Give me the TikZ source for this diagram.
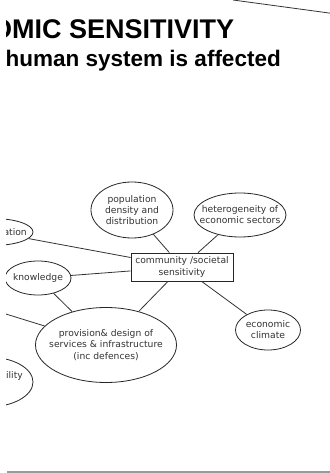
\documentclass[tikz,border=0pt]{standalone}
\usepackage{fontspec}
\setmainfont{DejaVu Sans}
\newfontfamily\titlefont{Liberation Sans}
\usetikzlibrary{shapes.geometric}
\tikzset{
  bub/.style={ellipse, draw=black!85, line width=0.8pt, inner xsep=-20pt, inner ysep=-8pt,
    align=center, text=black!80, font=\fontsize{9.2}{11}\selectfont},
  boxnode/.style={rectangle, draw=black!85, line width=0.8pt, inner sep=0pt,
    minimum width=102pt, minimum height=28pt, align=center, text=black!80,
    font=\fontsize{9.2}{12}\selectfont},
  link/.style={draw=black!80, line width=0.8pt},
  cut/.style={inner sep=0pt, text=black!80, font=\fontsize{9.2}{11}\selectfont},
  ttl/.style={inner sep=0pt, anchor=base west, text=black}
}
\begin{document}
\begin{tikzpicture}[x=1pt, y=-1pt]
\useasboundingbox (0,0) rectangle (329,473);
\fill[white] (0,0) rectangle (329,473);
\begin{scope}
\clip (6,-2) rectangle (331,475);
% title
\node[ttl] (title) at (-9,39) {\titlefont\bfseries\fontsize{27}{27}\selectfont OMIC SENSITIVITY};
\node[ttl] (sub) at (5.5,67) {\titlefont\bfseries\fontsize{22.5}{24}\selectfont human system is affected};
% top line
\coordinate (tl1) at (233,0);
\coordinate (tl2) at (340,14.5);
\draw[draw=black!80, line width=0.8pt] (tl1) -- (tl2);
% nodes
\node[boxnode] (comm) at (182,267) {community /societal\\sensitivity};
\node[bub, minimum width=82pt, minimum height=56pt, font=\fontsize{9.2}{10.7}\selectfont] (pop) at (132,210) {population\\density and\\distribution};
\node[bub, minimum width=92pt, minimum height=44pt] (het) at (240,215) {heterogeneity of\\economic sectors};
\node[bub, minimum width=80pt, minimum height=27pt] (edu) at (-7,232) {};
\node[cut, anchor=east] (edutxt) at (27,232) {ation};
\node[bub, minimum width=66pt, minimum height=34pt] (know) at (38,278) {knowledge};
\node[bub, minimum width=141pt, minimum height=75pt, font=\fontsize{9.2}{11.7}\selectfont] (prov) at (106,345) {provision\& design of\\services \& infrastructure\\(inc defences)};
\node[bub, minimum width=65pt, minimum height=40pt] (econ) at (268,330) {economic\\climate};
\node[bub, minimum width=90pt, minimum height=50pt] (abil) at (-12,382) {};
\node[cut, anchor=east] (abiltxt) at (23,376) {ility};
\coordinate (off) at (-20,306);
% connectors
\draw[link] (edu) -- (comm);
\draw[link] (pop) -- (comm);
\draw[link] (het) -- (comm);
\draw[link] (know) -- (comm);
\draw[link] (know) -- (prov);
\draw[link] (comm) -- (prov);
\draw[link] (comm) -- (econ);
\draw[link] (off) -- (prov);
% bottom rule
\coordinate (b1) at (7,472);
\coordinate (b2) at (331,472);
\draw[draw=black!40, line width=1.5pt] (b1) -- (b2);
\end{scope}
\end{tikzpicture}
\end{document}
